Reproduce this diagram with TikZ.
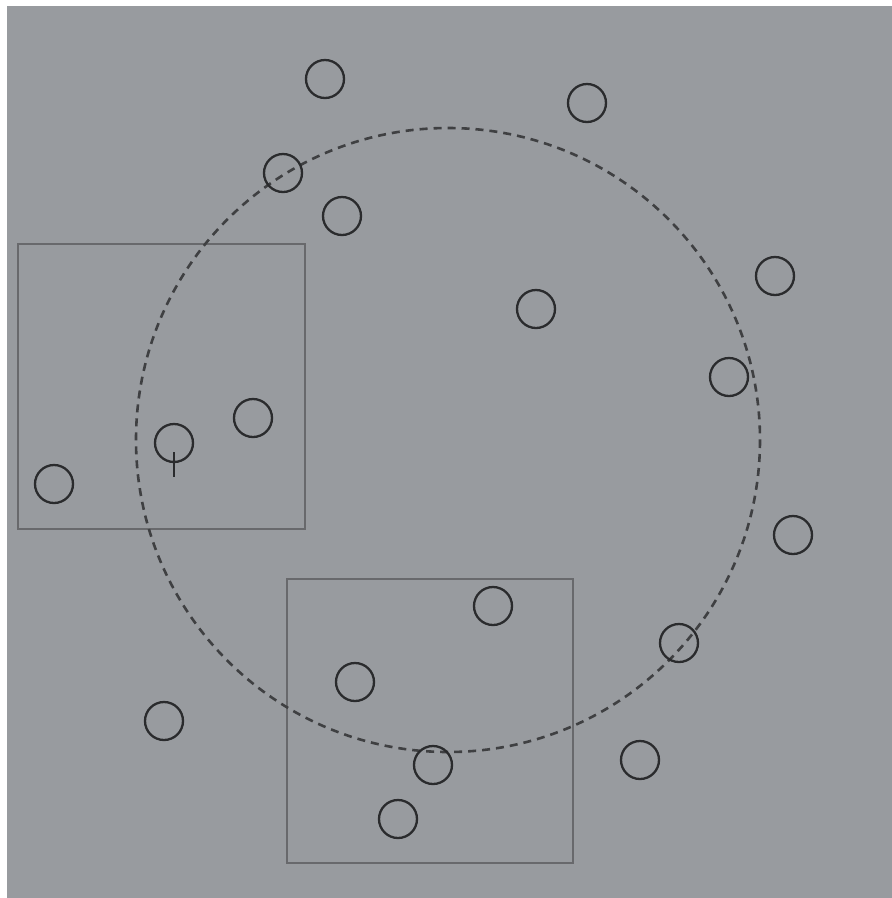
\documentclass[tikz,border=0pt]{standalone}
\usepackage{tikz}
\usetikzlibrary{positioning}
\definecolor{SceneBg}{HTML}{989B9F}
\definecolor{SceneInk}{HTML}{2A2B2D}
\definecolor{SceneFrame}{HTML}{68696C}

\begin{document}
\begin{tikzpicture}[x=1pt, y=-1pt,
    dot/.style={circle, draw=SceneInk, line width=2.3pt, minimum size=38pt, inner sep=0pt},
    frame/.style={draw=SceneFrame, line width=2.4pt},
    reach/.style={draw=SceneInk!90, line width=2.6pt, dash pattern=on 8pt off 6pt}
  ]
    \useasboundingbox (0,0) rectangle (892,898);
    \fill[white] (0,0) rectangle (892,898);
    \fill[SceneBg] (7,6) rectangle (892,898);
    % windows
    \draw[frame] (18,244) rectangle (305,529);
    \draw[frame] (287,579) rectangle (573,863);
    % sensing range
    \coordinate (hub) at (448,440);
    \draw[reach] (hub) circle[radius=312];
    % particles
    \node[dot] (p1) at (325,79) {};
    \node[dot] (p2) at (587,103) {};
    \node[dot] (p3) at (283,173) {};
    \node[dot] (p4) at (342,216) {};
    \node[dot] (p5) at (775,276) {};
    \node[dot] (p6) at (536,309) {};
    \node[dot] (p7) at (729,377) {};
    \node[dot] (p8) at (253,418) {};
    \node[dot] (p9) at (174,443) {};
    \node[dot] (p10) at (54,484) {};
    \node[dot] (p11) at (793,535) {};
    \node[dot] (p12) at (493,606) {};
    \node[dot] (p13) at (679,643) {};
    \node[dot] (p14) at (355,682) {};
    \node[dot] (p15) at (164,721) {};
    \node[dot] (p16) at (433,765) {};
    \node[dot] (p17) at (640,760) {};
    \node[dot] (p18) at (398,819) {};
    \draw[SceneInk, line width=2.3pt] (p9.center) ++(0,9) -- ++(0,25);
  \end{tikzpicture}
\end{document}
